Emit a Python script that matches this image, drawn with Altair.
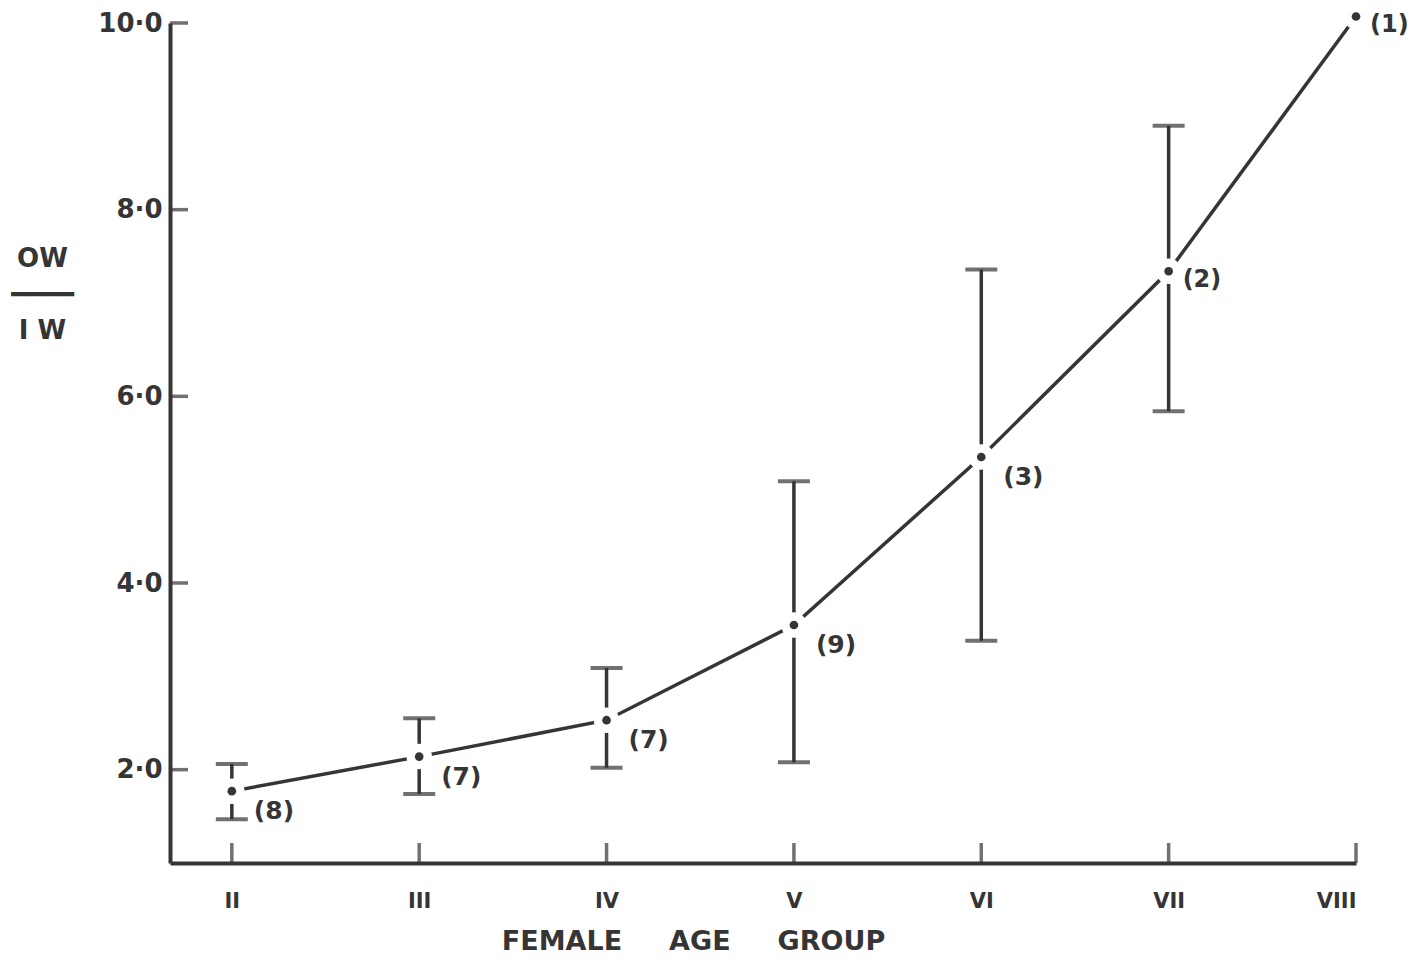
import altair as alt
import pandas as pd

groups = [2, 3, 4, 5, 6, 7, 8]
roman = ["II", "III", "IV", "V", "VI", "VII", "VIII"]
mean = [1.77, 2.14, 2.53, 3.55, 5.35, 7.34, 10.07]
upper = [2.06, 2.55, 3.09, 5.09, 7.36, 8.90, None]
lower = [1.47, 1.74, 2.02, 2.08, 3.38, 5.84, None]
n = [8, 7, 7, 9, 3, 2, 1]
y_ticks = [2, 4, 6, 8, 10]

df = pd.DataFrame({"group": groups, "roman": roman, "mean": mean,
                   "upper": upper, "lower": lower,
                   "label": [f"({k})" for k in n]})
df_err = df.dropna(subset=["upper", "lower"])
df_ticks = pd.DataFrame({"v": y_ticks})

INK = "#353535"
FONT = "DejaVu Sans"
NB = "\u00a0" * 5

roman_expr = "[" + ",".join(f"'{r}'" for r in roman) + "][datum.value - 2]"

x = alt.X("group:Q",
          scale=alt.Scale(domain=[1.67, 8], nice=False, zero=False),
          axis=alt.Axis(values=groups, labelExpr=roman_expr, ticks=False,
                        labelPadding=27, labelBaseline="top",
                        labelFontSize=21, labelFont=FONT, labelFontWeight="bold",
                        labelColor=INK, domainColor=INK, domainWidth=4,
                        grid=False,
                        title=f"FEMALE{NB}AGE{NB}GROUP",
                        titleFont=FONT, titleFontSize=27, titleFontWeight="bold",
                        titleColor=INK, titleX=523, titleY=78,
                        titleAlign="center", titleBaseline="middle"))
y = alt.Y("mean:Q",
          scale=alt.Scale(domain=[1, 10], nice=False, zero=False),
          axis=alt.Axis(values=y_ticks,
                        labelExpr="replace(format(datum.value, '.1f'), '.', '\u00b7')",
                        ticks=False, labelPadding=8, labelBaseline="middle",
                        labelFontSize=26, labelFont=FONT, labelFontWeight="bold",
                        labelColor=INK, domainColor=INK, domainWidth=4, grid=False,
                        title=["OW", "\u2501\u2501\u2501\u2501", "I W"], titleAngle=0,
                        titleFont=FONT, titleFontSize=26, titleFontWeight="bold",
                        titleColor=INK, titleX=-128, titleY=235,
                        titleAlign="center", titleBaseline="middle",
                        titleLineHeight=36))

base = alt.Chart(df)

line = base.mark_line(color=INK, strokeWidth=3.5).encode(x=x, y=y)
err = alt.Chart(df_err).mark_rule(color=INK, strokeWidth=3.5).encode(
    x="group:Q", y="lower:Q", y2="upper:Q")
cap_hi = alt.Chart(df_err).mark_tick(color=INK, thickness=4, size=32,
                                     orient="horizontal").encode(
    x="group:Q", y="upper:Q")
cap_lo = alt.Chart(df_err).mark_tick(color=INK, thickness=4, size=32,
                                     orient="horizontal").encode(
    x="group:Q", y="lower:Q")
gap = base.mark_point(filled=True, color="white", opacity=1, size=650,
                      shape="circle").encode(x="group:Q", y="mean:Q")
dots = base.mark_point(filled=True, color=INK, opacity=1, size=75,
                       shape="circle").encode(x="group:Q", y="mean:Q")
lab_low = base.transform_filter("datum.group <= 6").mark_text(
    align="left", baseline="middle", dx=22, dy=20, fontSize=25,
    fontWeight="bold", font=FONT, color=INK).encode(
    x="group:Q", y="mean:Q", text="label:N")
lab_side = base.transform_filter("datum.group > 6").mark_text(
    align="left", baseline="middle", dx=14, dy=9, fontSize=24,
    fontWeight="bold", font=FONT, color=INK).encode(
    x="group:Q", y="mean:Q", text="label:N")

ytick = alt.Chart(df_ticks).mark_tick(color=INK, thickness=3.5, size=18,
                                      orient="horizontal", xOffset=9).encode(
    x=alt.value(0), y="v:Q")
xtick = base.mark_tick(color=INK, thickness=3.5, size=20,
                       orient="vertical", yOffset=-10).encode(
    x="group:Q", y=alt.value(840))

chart = alt.layer(line, err, cap_hi, cap_lo, gap, dots, lab_low, lab_side,
                  ytick, xtick).properties(
    width=1186, height=840,
    padding={"left": 162, "top": 15, "right": 61, "bottom": 93},
    autosize=alt.AutoSizeParams(type="none"),
    background="white",
).configure_view(stroke=None)

chart.save("out.html", embed_options={"renderer": "svg", "actions": False})
